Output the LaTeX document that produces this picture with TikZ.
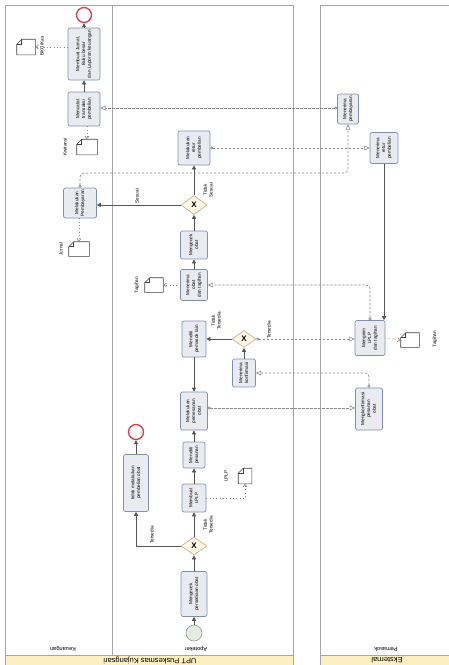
\documentclass[tikz,border=0pt]{standalone}
\usepackage{fontspec}
\setmainfont{Liberation Sans}
\usetikzlibrary{shapes.geometric,arrows.meta,calc}
\newlength\pxu \setlength\pxu{0.75pt}
\newcommand\rt[1]{\rotatebox{90}{\begin{tabular}{@{}c@{}}#1\end{tabular}}}
\newcommand\tfont{\fontsize{3.5}{4.3}\selectfont}
\definecolor{taskf}{HTML}{E9EBF0}
\definecolor{taskb}{HTML}{7F8FAD}
\definecolor{gwf}{HTML}{FFF6E6}
\definecolor{gwb}{HTML}{C9B48A}
\definecolor{startf}{HTML}{E3ECDD}
\definecolor{startb}{HTML}{9AA59A}
\definecolor{endb}{HTML}{D04050}
\definecolor{bandc}{HTML}{FCF0C3}
\definecolor{poolc}{HTML}{A6A6A6}
\definecolor{seqc}{HTML}{555555}
\definecolor{msgc}{HTML}{8A8A8A}
\newcommand\fold[1]{%
  \draw[dline] ([xshift=5\pxu]#1.north west) -- (#1.north east) -- (#1.south east) -- (#1.south west) -- ([yshift=-5\pxu]#1.north west) -- cycle;
  \draw[dline] ([xshift=5\pxu]#1.north west) |- ([yshift=-5\pxu]#1.north west);}
\begin{document}
\begin{tikzpicture}[x=0.75pt,y=-0.75pt,
  task/.style 2 args={draw=taskb, fill=taskf, rounded corners=1.5pt, line width=0.5pt, inner sep=0pt, font=\tfont, minimum width=#1\pxu, minimum height=#2\pxu},
  gw/.style 2 args={diamond, aspect=1.4, draw=gwb, fill=gwf, line width=0.5pt, inner sep=0pt, minimum width=#1\pxu, minimum height=#2\pxu, font=\fontsize{6}{6}\selectfont\bfseries},
  startev/.style={circle, draw=startb, fill=startf, line width=0.5pt, minimum size=16\pxu, inner sep=0pt},
  endev/.style={circle, draw=endb, fill=white, line width=1pt, minimum size=15\pxu, inner sep=0pt},
  dobj/.style 2 args={rectangle, draw=none, minimum width=#1\pxu, minimum height=#2\pxu, inner sep=0pt},
  dline/.style={draw=black!75, line width=0.4pt},
  lab/.style={font=\tfont, inner sep=0pt, rotate=90, align=center},
  seq/.style={draw=seqc, line width=0.5pt, -{Triangle[length=3pt,width=3pt]}},
  msg/.style={draw=msgc, line width=0.45pt, dash pattern=on 1.8pt off 1.2pt, rounded corners=3pt, {Circle[open,length=2.2pt,width=2.2pt]}-{Triangle[open,length=4pt,width=3.6pt]}},
  assoc/.style={draw=msgc, line width=0.5pt, dotted, -{Straight Barb[length=2pt,width=3pt]}},
  pool/.style={draw=poolc, line width=0.7pt},
  lanelab/.style={font=\fontsize{4.2}{5}\selectfont, rotate=180, inner sep=0pt},
  poollab/.style={font=\fontsize{5.6}{6}\selectfont, rotate=180, inner sep=0pt}]
\useasboundingbox (0,0) rectangle (449,665);
% pools and lanes
\fill[bandc] (5,655) rectangle (293,665);
\fill[bandc] (320,655) rectangle (452,665);
\draw[pool] (5,665) -- (5,5) -- (293,5) -- (293,665);
\draw[pool] (5,655) -- (293,655);
\draw[pool] (112,5) -- (112,655);
\draw[pool] (320,665) -- (320,5) -- (452,5);
\draw[pool] (320,655) -- (452,655);
\node[lanelab] (lk) at (63,649) {Keuangan};
\node[lanelab] (la) at (196,649) {Apoteker};
\node[lanelab] (lp) at (386,649) {Pemasok};
\node[poollab] (pu) at (150,660) {UPT Puskesmas Kujangsari};
\node[poollab] (pe) at (387,660) {Eksternal};
% Keuangan lane
\node[endev] (endK) at (84,15) {};
\node[task={32}{52}] (tjurnal) at (84,54) {\rt{Membuat Jurnal,\\Buku besar\\dan Laporan keuangan}};
\node[task={32}{34}] (tcatat) at (84,109) {\rt{Mencatat\\transaksi\\pembelian}};
\node[task={33}{30}] (tbayar) at (80,203) {\rt{Melakukan\\Pembayaran}};
\node[dobj={18}{15}] (dbku) at (26,47) {}; \fold{dbku}
\node[lab] (lbku) at (42,46) {BKU/Kas};
\node[dobj={20}{15}] (dkwit) at (87,147) {}; \fold{dkwit}
\node[lab] (lkwit) at (65,147) {Kwitansi};
\node[dobj={20}{14}] (djurnal) at (79,249) {}; \fold{djurnal}
\node[lab] (ljurnal) at (61,249) {Jurnal};
% Apoteker lane
\node[startev] (startA) at (194,633) {};
\node[task={26}{45}] (tcek) at (194,594) {\rt{Mengecek\\persediaan obat}};
\node[gw={26}{18}] (g1) at (194,546) {X};
\node[task={25}{57}] (ttidak) at (136,483) {\rt{tidak melakukan\\pembelian obat}};
\node[endev] (endA) at (136,432) {};
\node[task={24}{28}] (tlplp) at (194,498) {\rt{Membuat\\LPLP}};
\node[dobj={13}{15}] (dlplp) at (245,476) {}; \fold{dlplp}
\node[lab] (llplp) at (226,476) {LPLP};
\node[task={22}{26}] (tteliti) at (194,455) {\rt{Meneliti\\pesanan}};
\node[task={27}{38}] (tpesan) at (194,411) {\rt{Melakukan\\pemesanan\\obat}};
\node[task={23}{28}] (tkonf) at (244,373) {\rt{Menerima\\konfirmasi}};
\node[gw={24}{17}] (g2) at (244,339) {X};
\node[task={24}{36}] (tlain) at (194,339) {\rt{Meneliti\\pemasok lain}};
\node[task={27}{31}] (tterima) at (194,285) {\rt{Menerima\\obat\\dan tagihan}};
\node[dobj={18}{14}] (dtag1) at (154,285) {}; \fold{dtag1}
\node[lab] (ltag1) at (137,285) {Tagihan};
\node[task={27}{28}] (tcekobat) at (194,245) {\rt{Mengecek\\obat}};
\node[gw={26}{19}] (g3) at (194,205) {X};
\node[task={32}{34}] (tretur) at (194,148) {\rt{Melakukan\\retur\\pembelian}};
% Pemasok lane
\node[task={21}{30}] (ttrbayar) at (348,109) {\rt{Menerima\\pembayaran}};
\node[task={28}{31}] (ttrretur) at (384,148) {\rt{Menerima\\retur\\pembelian}};
\node[task={30}{35}] (tkirim) at (370,338) {\rt{Mengirim\\LPLP\\dan tagihan}};
\node[dobj={18}{14}] (dtag2) at (410,340) {}; \fold{dtag2}
\node[lab] (ltag2) at (435,339) {Tagihan};
\node[task={27}{42}] (tkonfirm) at (369,409) {\rt{Mengkonfirmasi\\pesanan\\obat}};
% gateway labels
\node[lab] (lg1a) at (152,535) {Tersedia};
\node[lab] (lg1b) at (208,525) {Tidak\\Tersedia};
\node[lab] (lg2a) at (216,321) {Tidak\\Tersedia};
\node[lab] (lg2b) at (269,330) {Tersedia};
\node[lab] (lg3a) at (137,196) {Sesuai};
\node[lab] (lg3b) at (208,190) {Tidak\\Sesuai};
% sequence flows
\draw[seq] (startA) -- (tcek);
\draw[seq] (tcek) -- (g1);
\draw[seq] (g1.west) -| (ttidak.south);
\draw[seq] (ttidak) -- (endA);
\draw[seq] (g1) -- (tlplp);
\draw[seq] (tlplp) -- (tteliti);
\draw[seq] (tteliti) -- (tpesan);
\draw[seq] (tlain) -- (tpesan);
\draw[seq] (tkonf) -- (g2);
\draw[seq] (g2) -- (tlain);
\draw[seq] (tterima) -- (tcekobat);
\draw[seq] (tcekobat) -- (g3);
\draw[seq] (g3) -- (tbayar.east |- g3);
\draw[seq] (g3) -- (tretur);
\draw[seq] (ttrretur.south) -- (ttrretur.south |- tkirim.north);
\draw[seq] (tcatat) -- (tjurnal);
\draw[seq] (tjurnal) -- (endK);
% message flows
\draw[msg] (tpesan.east |- 0,408) -- (tkonfirm.west |- 0,408);
\draw[msg] (tkonfirm.north) |- (tkonf.east);
\draw[msg] (g2.east) -- (tkirim.west |- g2.east);
\draw[msg] (tkirim.north) |- (tterima.east);
\draw[msg] (tretur.east) -- (ttrretur.west);
\draw[msg] (ttrbayar.west |- 0,108) -- (tcatat.east |- 0,108);
\coordinate (bend) at (348,173);
\draw[msg] (tbayar.north) |- (bend) -- (ttrbayar.south);
% associations
\draw[assoc] (tjurnal.west |- dbku) -- (dbku.east);
\draw[assoc] (dkwit.north |- tcatat.south) -- (dkwit.north);
\draw[assoc] (djurnal.north |- tbayar.south) -- (djurnal.north);
\draw[assoc] (tlplp.east) -| (dlplp.south);
\draw[assoc] (tterima.west) -- (dtag1.east);
\draw[assoc] (tkirim.east) -- (dtag2.west);
\end{tikzpicture}
\end{document}
